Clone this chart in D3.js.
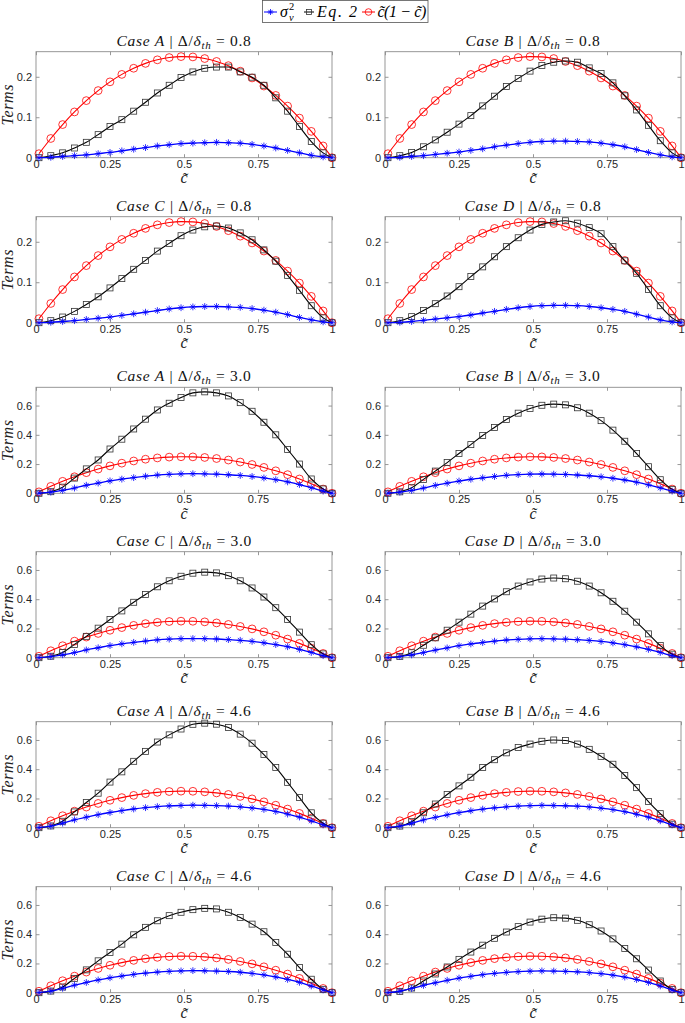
<!DOCTYPE html>
<html><head><meta charset="utf-8">
<script src="https://cdn.jsdelivr.net/npm/d3@7"></script>
<style>body{margin:0;background:#fff}</style>
</head><body><svg id="c" width="685" height="1023"></svg>
<script>
const cTilde = [0.01,0.05,0.09,0.13,0.17,0.21,0.25,0.29,0.33,0.37,0.41,0.45,0.49,0.53,0.57,0.61,0.65,0.69,0.73,0.77,0.81,0.85,0.89,0.93,0.97,1.00];
const ctc = [0.0099,0.0475,0.0819,0.1131,0.1411,0.1659,0.1875,0.2059,0.2211,0.2331,0.2419,0.2475,0.2499,0.2491,0.2451,0.2379,0.2275,0.2139,0.1971,0.1771,0.1539,0.1275,0.0979,0.0651,0.0291,0];

const eq2A08 = [0,0.005,0.012,0.024,0.038,0.057,0.077,0.094,0.115,0.137,0.160,0.179,0.198,0.212,0.221,0.224,0.224,0.212,0.199,0.179,0.148,0.115,0.077,0.040,0.012,0];
const sigmaA08 = [0,0.001,0.003,0.005,0.007,0.010,0.013,0.017,0.021,0.025,0.029,0.032,0.035,0.036,0.037,0.038,0.037,0.036,0.033,0.029,0.024,0.018,0.012,0.006,0.002,0];
const eq2B08 = [0,0.005,0.013,0.027,0.044,0.063,0.083,0.104,0.128,0.152,0.176,0.196,0.214,0.228,0.236,0.239,0.236,0.222,0.208,0.185,0.153,0.118,0.080,0.042,0.012,0];
const sigmaB08 = [0,0.001,0.003,0.005,0.008,0.011,0.014,0.018,0.022,0.027,0.031,0.035,0.038,0.040,0.041,0.041,0.040,0.039,0.036,0.032,0.027,0.020,0.013,0.007,0.002,0];
const eq2C08 = [0,0.005,0.014,0.028,0.045,0.064,0.086,0.109,0.132,0.154,0.177,0.196,0.215,0.229,0.237,0.239,0.234,0.222,0.205,0.180,0.152,0.117,0.080,0.042,0.012,0];
const sigmaC08 = [0,0.001,0.003,0.005,0.008,0.011,0.014,0.018,0.022,0.026,0.030,0.034,0.037,0.039,0.040,0.040,0.039,0.038,0.035,0.031,0.026,0.020,0.013,0.007,0.002,0];
const eq2D08 = [0,0.005,0.015,0.030,0.047,0.066,0.089,0.114,0.138,0.163,0.188,0.210,0.229,0.243,0.249,0.252,0.246,0.235,0.220,0.188,0.153,0.122,0.082,0.042,0.012,0];
const sigmaD08 = [0,0.001,0.003,0.006,0.009,0.012,0.015,0.019,0.024,0.028,0.033,0.037,0.040,0.042,0.043,0.043,0.042,0.040,0.037,0.033,0.028,0.021,0.014,0.007,0.002,0];

const eq2A30 = [0,0.011,0.042,0.104,0.167,0.228,0.303,0.370,0.440,0.507,0.570,0.616,0.655,0.687,0.694,0.687,0.666,0.620,0.561,0.486,0.400,0.300,0.200,0.098,0.030,0];
const sigmaA30 = [0.001,0.008,0.020,0.036,0.055,0.070,0.085,0.097,0.107,0.117,0.125,0.130,0.133,0.134,0.133,0.131,0.127,0.122,0.115,0.105,0.093,0.078,0.060,0.038,0.015,0];
const eq2B30 = [0,0.010,0.038,0.095,0.152,0.210,0.272,0.333,0.395,0.450,0.505,0.548,0.580,0.602,0.610,0.605,0.585,0.548,0.497,0.432,0.356,0.272,0.182,0.093,0.027,0];
const sigmaB30 = [0.001,0.008,0.020,0.036,0.054,0.069,0.084,0.096,0.106,0.115,0.123,0.128,0.131,0.132,0.131,0.129,0.125,0.120,0.113,0.103,0.091,0.076,0.058,0.037,0.015,0];
const eq2C30 = [0,0.010,0.036,0.091,0.146,0.202,0.261,0.320,0.379,0.432,0.485,0.526,0.557,0.578,0.585,0.580,0.561,0.526,0.477,0.415,0.342,0.261,0.175,0.089,0.026,0];
const sigmaC30 = [0.001,0.008,0.020,0.035,0.053,0.068,0.083,0.095,0.105,0.114,0.122,0.127,0.130,0.131,0.130,0.128,0.124,0.119,0.112,0.102,0.090,0.075,0.057,0.036,0.014,0];
const eq2D30 = [0,0.009,0.034,0.085,0.136,0.188,0.243,0.298,0.353,0.402,0.451,0.490,0.518,0.538,0.545,0.540,0.523,0.490,0.444,0.386,0.318,0.243,0.163,0.083,0.024,0];
const sigmaD30 = [0.001,0.008,0.019,0.035,0.052,0.067,0.082,0.094,0.104,0.113,0.121,0.126,0.129,0.130,0.129,0.127,0.123,0.118,0.111,0.101,0.089,0.074,0.057,0.036,0.014,0];

const eq2A46 = [0,0.012,0.044,0.108,0.172,0.236,0.312,0.382,0.454,0.522,0.586,0.635,0.675,0.707,0.715,0.708,0.686,0.640,0.578,0.500,0.412,0.310,0.206,0.102,0.031,0];
const sigmaA46 = [0.001,0.011,0.031,0.054,0.072,0.089,0.104,0.117,0.128,0.137,0.144,0.149,0.152,0.154,0.153,0.151,0.148,0.143,0.135,0.125,0.111,0.093,0.073,0.047,0.019,0];
const eq2B46 = [0,0.011,0.041,0.102,0.162,0.227,0.286,0.345,0.412,0.465,0.512,0.548,0.572,0.591,0.600,0.596,0.572,0.536,0.488,0.434,0.357,0.274,0.179,0.096,0.024,0];
const sigmaB46 = [0.001,0.011,0.030,0.053,0.071,0.088,0.103,0.116,0.127,0.136,0.143,0.148,0.151,0.153,0.152,0.150,0.147,0.142,0.134,0.124,0.110,0.092,0.072,0.047,0.019,0];
const eq2C46 = [0,0.011,0.039,0.098,0.156,0.218,0.275,0.332,0.396,0.447,0.492,0.527,0.550,0.568,0.577,0.573,0.550,0.515,0.469,0.417,0.343,0.263,0.172,0.092,0.023,0];
const sigmaC46 = [0.001,0.011,0.030,0.052,0.070,0.087,0.102,0.114,0.125,0.134,0.141,0.146,0.149,0.151,0.150,0.148,0.145,0.140,0.132,0.122,0.108,0.091,0.071,0.046,0.019,0];
const eq2D46 = [0,0.009,0.032,0.080,0.128,0.176,0.228,0.278,0.325,0.372,0.415,0.452,0.483,0.503,0.513,0.510,0.495,0.465,0.422,0.368,0.302,0.232,0.155,0.080,0.022,0];
const sigmaD46 = [0.001,0.010,0.029,0.050,0.068,0.085,0.100,0.112,0.123,0.132,0.139,0.144,0.147,0.149,0.148,0.146,0.143,0.138,0.130,0.120,0.107,0.090,0.070,0.046,0.018,0];

const xTicks = [0, 0.25, 0.5, 0.75, 1];
const xTickLabels = ["0", "0.25", "0.5", "0.75", "1"];
const yTicksLow = [0, 0.1, 0.2];
const yTicksHigh = [0, 0.2, 0.4, 0.6];
const legendLabels = ["σ", "Eq. 2", "c̃(1 − c̃)"];

const panels = [
  {cs:"A", r:"0.8", eq:eq2A08, sg:sigmaA08}, {cs:"B", r:"0.8", eq:eq2B08, sg:sigmaB08},
  {cs:"C", r:"0.8", eq:eq2C08, sg:sigmaC08}, {cs:"D", r:"0.8", eq:eq2D08, sg:sigmaD08},
  {cs:"A", r:"3.0", eq:eq2A30, sg:sigmaA30}, {cs:"B", r:"3.0", eq:eq2B30, sg:sigmaB30},
  {cs:"C", r:"3.0", eq:eq2C30, sg:sigmaC30}, {cs:"D", r:"3.0", eq:eq2D30, sg:sigmaD30},
  {cs:"A", r:"4.6", eq:eq2A46, sg:sigmaA46}, {cs:"B", r:"4.6", eq:eq2B46, sg:sigmaB46},
  {cs:"C", r:"4.6", eq:eq2C46, sg:sigmaC46}, {cs:"D", r:"4.6", eq:eq2D46, sg:sigmaD46}
];

const svg = d3.select("#c");
const colLeft = [36, 385], plotW = 296;
const rowTop = [51.7, 216.7, 387.3, 551.7, 721.7, 886.7], plotH = 106;
const serif = "'Liberation Serif', 'Times New Roman', serif";
const sans = "'Liberation Sans', Arial, sans-serif";
const frameCol = "#8c8c8c", tickTxt = "#262626";

function starPath(r){const a=r*0.7071;return `M${-r},0L${r},0M0,${-r}L0,${r}M${-a},${-a}L${a},${a}M${-a},${a}L${a},${-a}`;}

panels.forEach((p, i) => {
  const row = Math.floor(i/2), col = i%2;
  const x0 = colLeft[col], y0 = rowTop[row];
  const g = svg.append("g").attr("transform", `translate(${x0},${y0})`);
  const x = d3.scaleLinear().domain([0,1]).range([0, plotW]);
  const yMax = row < 2 ? 0.262 : 0.725;
  const yT = row < 2 ? yTicksLow : yTicksHigh;
  const y = d3.scaleLinear().domain([0, yMax]).range([plotH, 0]);

  g.append("rect").attr("x",0).attr("y",0).attr("width",plotW).attr("height",plotH)
    .attr("fill","none").attr("stroke",frameCol).attr("stroke-width",0.9);

  const axB = g.append("g").attr("transform",`translate(0,${plotH})`)
    .call(d3.axisBottom(x).tickValues(xTicks).tickFormat((d,k)=>xTickLabels[k]).tickSizeInner(-3.5).tickSizeOuter(0).tickPadding(2));
  const axT = g.append("g").call(d3.axisTop(x).tickValues(xTicks).tickFormat("").tickSizeInner(-3.5).tickSizeOuter(0));
  const axL = g.append("g").call(d3.axisLeft(y).tickValues(yT).tickFormat(d=>d===0?"0":d3.format(".1f")(d)).tickSizeInner(-3.5).tickSizeOuter(0).tickPadding(4));
  const axR = g.append("g").attr("transform",`translate(${plotW},0)`).call(d3.axisRight(y).tickValues(yT).tickFormat("").tickSizeInner(-3.5).tickSizeOuter(0));
  [axB,axT,axL,axR].forEach(a=>{
    a.select(".domain").remove();
    a.selectAll(".tick line").attr("stroke",frameCol).attr("stroke-width",0.9);
    a.selectAll("text").attr("font-family",sans).attr("font-size",11).attr("fill",tickTxt);
  });

  const pts = (vals) => cTilde.map((c,k)=>[x(c), y(vals[k])]);
  const line = d3.line().curve(d3.curveMonotoneX);

  const red = pts(ctc);
  g.append("path").attr("d", line(red)).attr("fill","none").attr("stroke","#ff0000").attr("stroke-width",1.1);
  g.selectAll(null).data(red).enter().append("circle").attr("cx",d=>d[0]).attr("cy",d=>d[1]).attr("r",3.9)
    .attr("fill","none").attr("stroke","#ff0000").attr("stroke-width",0.8);
  const blk = pts(p.eq);
  g.append("path").attr("d", line(blk)).attr("fill","none").attr("stroke","#000").attr("stroke-width",1.1);
  g.selectAll(null).data(blk).enter().append("rect").attr("x",d=>d[0]-3).attr("y",d=>d[1]-3).attr("width",6).attr("height",6)
    .attr("fill","none").attr("stroke","#333").attr("stroke-width",0.8);
  const blu = pts(p.sg);
  g.append("path").attr("d", line(blu)).attr("fill","none").attr("stroke","#0000ff").attr("stroke-width",1.3);
  g.selectAll(null).data(blu).enter().append("path").attr("transform",d=>`translate(${d[0]},${d[1]})`).attr("d",starPath(3.4))
    .attr("fill","none").attr("stroke","#0000ff").attr("stroke-width",0.8);

  const t = g.append("text").attr("x", plotW/2).attr("y", -6).attr("text-anchor","middle")
    .attr("font-family",serif).attr("font-size",15.5).attr("letter-spacing",0.7).attr("fill","#111");
  t.append("tspan").attr("font-style","italic").text(`Case ${p.cs}`);
  t.append("tspan").text(" | Δ/");
  t.append("tspan").attr("font-style","italic").text("δ");
  t.append("tspan").attr("font-style","italic").attr("font-size",11).attr("dy",3).text("th");
  t.append("tspan").attr("dy",-3).text(` = ${p.r}`);

  g.append("text").attr("x", plotW/2).attr("y", plotH+25.5).attr("text-anchor","middle")
    .attr("font-family",serif).attr("font-style","italic").attr("font-size",16).attr("fill","#222").text("c̃");
  if (col === 0) {
    g.append("text").attr("transform",`translate(${-23},${plotH/2}) rotate(-90)`).attr("text-anchor","middle")
      .attr("font-family",serif).attr("font-style","italic").attr("font-size",16).attr("fill","#222").attr("letter-spacing",0.6).text("Terms");
  }
});

const lg = svg.append("g");
lg.append("rect").attr("x",262.5).attr("y",0.5).attr("width",165.5).attr("height",22).attr("fill","#fff").attr("stroke","#555").attr("stroke-width",0.8);
const entries = [
  {x1:264, x2:277, col:"#0000ff", mk:"star"},
  {x1:304, x2:314, col:"#000", mk:"sq"},
  {x1:362, x2:375, col:"#ff0000", mk:"circ"}
];
const ly = 12;
entries.forEach((e)=>{
  lg.append("line").attr("x1",e.x1).attr("x2",e.x2).attr("y1",ly).attr("y2",ly).attr("stroke",e.col).attr("stroke-width",1);
  const cx=(e.x1+e.x2)/2;
  if(e.mk==="star") lg.append("path").attr("transform",`translate(${cx},${ly})`).attr("d",starPath(3)).attr("stroke",e.col).attr("fill","none").attr("stroke-width",0.8);
  if(e.mk==="sq") lg.append("rect").attr("x",cx-2.5).attr("y",ly-2.5).attr("width",5).attr("height",5).attr("stroke","#333").attr("fill","none").attr("stroke-width",0.8);
  if(e.mk==="circ") lg.append("circle").attr("cx",cx).attr("cy",ly).attr("r",3.3).attr("stroke",e.col).attr("fill","none").attr("stroke-width",0.8);
});
lg.append("text").attr("x",280).attr("y",17).attr("font-family",serif).attr("font-style","italic").attr("font-size",16).text(legendLabels[0]);
lg.append("text").attr("x",289).attr("y",9.5).attr("font-family",serif).attr("font-size",10.5).text("2");
lg.append("text").attr("x",289).attr("y",20.5).attr("font-family",serif).attr("font-style","italic").attr("font-size",10.5).text("v");
lg.append("text").attr("x",317).attr("y",17).attr("font-family",serif).attr("font-style","italic").attr("font-size",16).attr("textLength",40).text(legendLabels[1]);
lg.append("text").attr("x",377).attr("y",17).attr("font-family",serif).attr("font-style","italic").attr("font-size",16).attr("textLength",49).text(legendLabels[2]);
</script></body></html>
